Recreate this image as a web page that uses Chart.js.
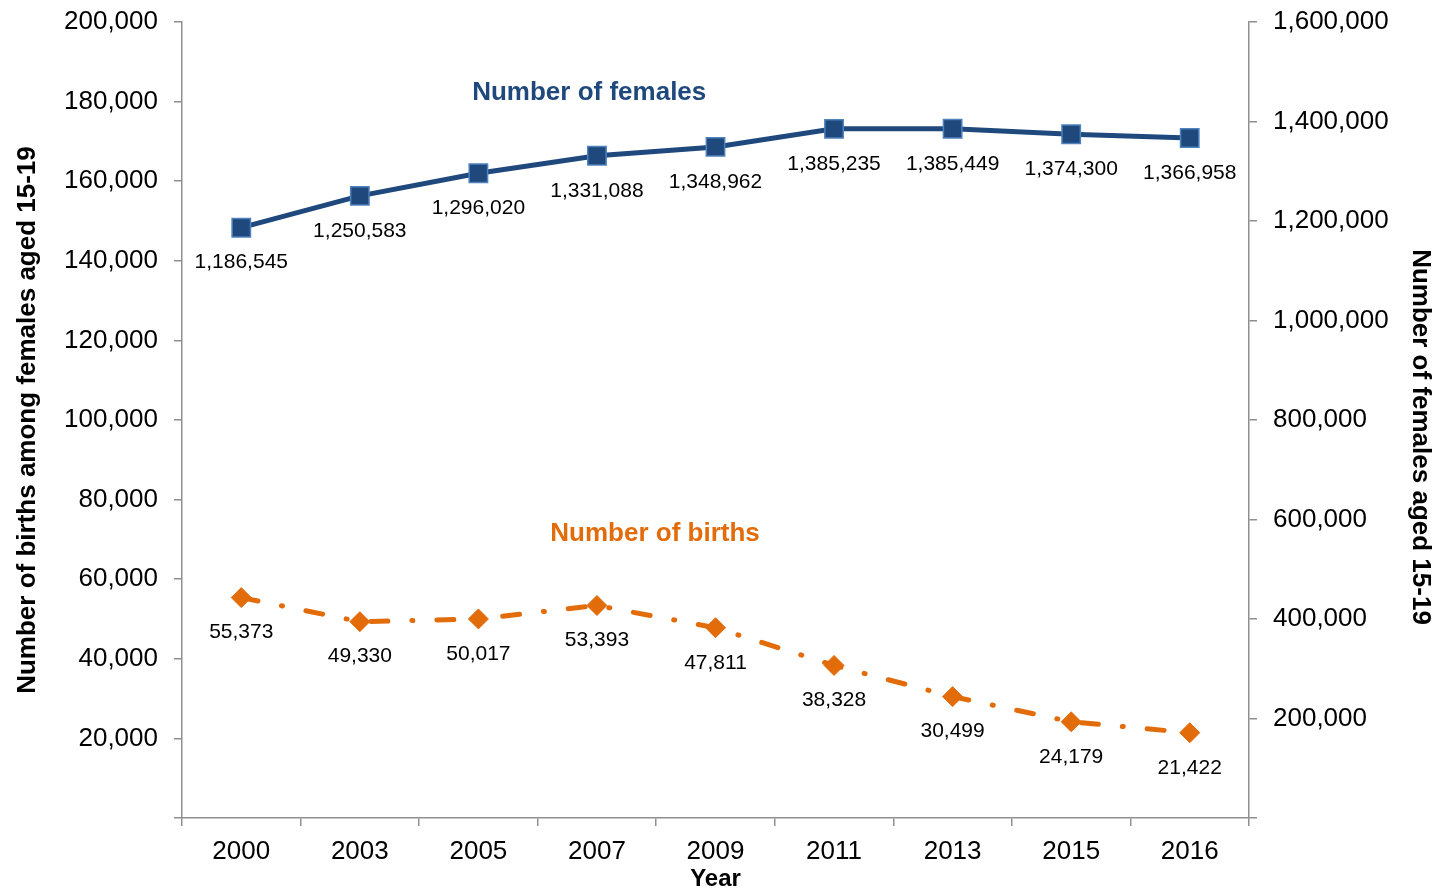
<!DOCTYPE html>
<html>
<head>
<meta charset="utf-8">
<title>Teen births and females aged 15-19</title>
<script src="https://cdn.jsdelivr.net/npm/chart.js@4.4.1/dist/chart.umd.min.js"></script>
<style>
  html, body { margin: 0; padding: 0; background: #fff; }
  #wrap { width: 1439px; height: 892px; }
</style>
</head>
<body>
<div id="wrap"><canvas id="myChart" width="1439" height="892"></canvas></div>
<script>
// data
const years = ["2000", "2003", "2005", "2007", "2009", "2011", "2013", "2015", "2016"];
const births = [55373, 49330, 50017, 53393, 47811, 38328, 30499, 24179, 21422];
const females = [1186545, 1250583, 1296020, 1331088, 1348962, 1385235, 1385449, 1374300, 1366958];

// axis ranges
const birthsMax = 200000;
const birthsStep = 20000;
const femalesMax = 1600000;
const femalesStep = 200000;

const navy = "#1F497D";
const orange = "#E36C0A";
const axisGrey = "#8f8f8f";
const fontFamily = "'Liberation Sans', Arial, Helvetica, sans-serif";

Chart.defaults.font.family = fontFamily;
Chart.defaults.color = "#000";

const fmt = (v) => v.toLocaleString("en-US");

// value labels under every point, series names and the right axis title
const labelPlugin = {
  id: "pointLabels",
  afterDatasetsDraw(chart) {
    const c = chart.ctx;
    const x = chart.scales.x;
    const yL = chart.scales.yBirths;
    c.save();
    c.textAlign = "center";
    c.textBaseline = "middle";
    c.fillStyle = "#000";
    c.font = "21px " + fontFamily;
    chart.data.datasets.forEach((ds, i) => {
      chart.getDatasetMeta(i).data.forEach((pt, j) => {
        c.fillText(fmt(ds.data[j]), pt.x, pt.y + 35);
      });
    });

    c.font = "bold 26px " + fontFamily;
    c.fillStyle = navy;
    c.fillText("Number of females", x.getPixelForValue(2.935), yL.getPixelForValue(182300));
    c.fillStyle = orange;
    c.fillText("Number of births", x.getPixelForValue(3.49), yL.getPixelForValue(71300));

    c.fillStyle = "#000";
    c.translate(chart.width - 19, (chart.chartArea.top + chart.chartArea.bottom) / 2 + 17);
    c.rotate(Math.PI / 2);
    c.fillText("Number of females aged 15-19", 0, 0);
    c.restore();
  },
};

// fixed axis widths, no extra room for the end labels
function fixY(width) {
  return (scale) => {
    scale.width = width;
    scale.paddingTop = 0;
    scale.paddingBottom = 0;
  };
}

const ctx = document.getElementById("myChart").getContext("2d");

const myChart = new Chart(ctx, {
  type: "line",
  data: {
    labels: years,
    datasets: [
      {
        label: "Number of females",
        data: females,
        yAxisID: "yFemales",
        borderColor: navy,
        borderWidth: 5,
        pointStyle: "rect",
        pointRadius: 13,
        pointBackgroundColor: navy,
        pointBorderColor: "#4F81BD",
        pointBorderWidth: 1.5,
        tension: 0,
      },
      {
        label: "Number of births",
        data: births,
        yAxisID: "yBirths",
        borderColor: orange,
        borderWidth: 5,
        borderDash: [17, 24, 1, 24],
        borderCapStyle: "round",
        pointStyle: "rectRot",
        pointRadius: 10,
        pointBackgroundColor: orange,
        pointBorderColor: orange,
        pointBorderWidth: 1,
        tension: 0,
      },
    ],
  },
  options: {
    responsive: false,
    animation: false,
    layout: { padding: { top: 22, left: 0, right: 0, bottom: 0 } },
    plugins: {
      legend: { display: false },
      tooltip: { enabled: false },
    },
    scales: {
      x: {
        offset: true,
        grid: {
          offset: true,
          drawOnChartArea: false,
          tickLength: 8,
          color: axisGrey,
          lineWidth: 1.5,
        },
        border: { color: axisGrey, width: 1.5 },
        ticks: { font: { size: 26 }, padding: 10, maxRotation: 0 },
        title: {
          display: true,
          text: "Year",
          font: { size: 24, weight: "bold" },
          padding: { top: 0, bottom: -2 },
        },
        afterFit: (scale) => { scale.height = 74; },
      },
      yBirths: {
        position: "left",
        min: 0,
        max: birthsMax,
        grid: {
          drawOnChartArea: false,
          tickLength: 8,
          color: axisGrey,
          lineWidth: 1.5,
        },
        border: { color: axisGrey, width: 1.5 },
        ticks: {
          stepSize: birthsStep,
          font: { size: 26 },
          padding: 16,
          callback: (v) => (v === 0 ? "" : fmt(v)),
        },
        title: {
          display: true,
          text: "Number of births among females aged 15-19",
          font: { size: 26, weight: "bold" },
          padding: { top: 12, bottom: 0 },
        },
        afterFit: fixY(182),
      },
      yFemales: {
        position: "right",
        min: 0,
        max: femalesMax,
        grid: {
          drawOnChartArea: false,
          tickLength: 8,
          color: axisGrey,
          lineWidth: 1.5,
        },
        border: { color: axisGrey, width: 1.5 },
        ticks: {
          stepSize: femalesStep,
          font: { size: 26 },
          padding: 16,
          callback: (v) => (v === 0 ? "" : fmt(v)),
        },
        afterFit: fixY(190),
      },
    },
  },
  plugins: [labelPlugin],
});
</script>
</body>
</html>
